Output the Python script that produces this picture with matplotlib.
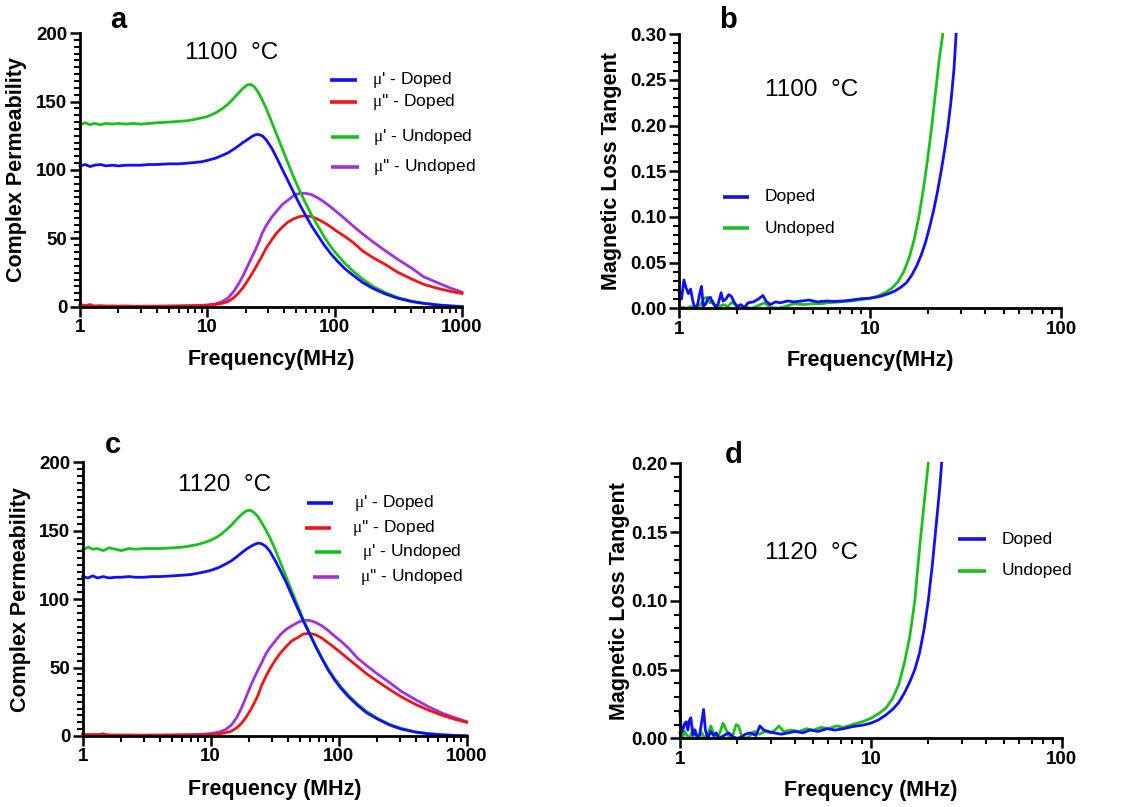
import matplotlib
matplotlib.use("Agg")
import matplotlib.pyplot as plt
from matplotlib.ticker import FixedLocator, LogLocator, NullFormatter, MultipleLocator

plt.rcParams['font.family'] = ['Liberation Sans', 'DejaVu Sans']
plt.rcParams['mathtext.fontset'] = 'custom'
plt.rcParams['mathtext.it'] = 'Liberation Serif'
plt.rcParams['mathtext.rm'] = 'Liberation Serif'

# ---------------- data: permeability panels (a, c) ----------------
freq_perm = [1, 1.1, 1.2, 1.3, 1.45, 1.6, 1.8, 2, 2.3, 2.6, 3, 3.5, 4, 5, 6, 7, 8, 9, 10,
             11.5, 13, 14.5, 16, 17.5, 19, 20.5, 22, 23.5, 25, 27, 29, 32, 35, 39, 43, 48,
             53, 59, 66, 74, 83, 93, 105, 120, 140, 165, 200, 250, 310, 400, 500, 650, 800, 1000]

a_mu1_doped = [103, 104, 102.5, 103.5, 104, 103, 103.5, 103, 103.5, 103.5, 103.5, 104, 104, 104.5,
               104.5, 105, 105.5, 106, 107, 108.5, 110.5, 112.5, 115, 117.5, 120, 122, 124, 125.5,
               126, 125, 122, 116, 109, 100, 92, 83, 75, 67, 59, 52, 45, 39, 33.5, 28, 23, 18,
               13.5, 9.5, 6.5, 4, 2.6, 1.4, 0.8, 0.3]
a_mu2_doped = [2, 0.8, 1.8, 0.5, 1, 0.4, 0.8, 0.5, 0.7, 0.4, 0.5, 0.5, 0.5, 0.6, 0.7, 0.8, 0.9,
               1.0, 1.2, 1.7, 2.6, 4, 6.5, 10, 14, 18.5, 23, 27.5, 32, 37.5, 43, 49, 54, 58.5,
               62, 64.5, 66, 66.5, 66, 64, 61.5, 58.5, 55, 51.5, 47, 41, 36, 31, 25.5, 20.5,
               16.5, 13.5, 11.5, 9.8]
a_mu1_undoped = [133, 134.5, 133, 134, 133, 134, 133.5, 134, 133.5, 134, 133.5, 134, 134.5, 135,
                 135.5, 136, 137, 138, 139, 141.5, 144.5, 148, 152, 156, 159.5, 162, 162.5, 160.5,
                 157, 151, 145, 135, 126, 115, 105, 94, 85, 76, 67, 59, 51, 44, 38, 32, 26,
                 20.5, 15, 10.5, 7, 4.3, 2.8, 1.5, 0.8, 0.3]
a_mu2_undoped = [0.5, 1, 0.4, 0.8, 0.5, 0.8, 0.4, 0.6, 0.5, 0.6, 0.5, 0.6, 0.6, 0.7, 0.8, 0.9,
                 1.0, 1.2, 1.5, 2.2, 3.8, 6.5, 11, 16.5, 22.5, 29, 35, 40.5, 46, 54, 59.5, 65.5,
                 70, 75, 78, 81.5, 83, 83, 82, 79.5, 76.5, 73, 69, 64.5, 59, 53.5, 47.5, 41,
                 35, 28.5, 22, 17.5, 14, 10.8]

c_mu1_doped = [116.5, 115.5, 117, 115.5, 116.5, 115.5, 116, 116, 116.5, 116, 116, 116.5, 116.5,
               117, 117.5, 118, 119, 120, 121, 123, 125.5, 128, 131, 134, 136.5, 138.5, 140,
               141, 140.5, 138.5, 135, 128, 121, 112, 103, 93, 84, 75, 65.5, 56.5, 48, 41,
               34.5, 28.5, 22.5, 17, 12.5, 8, 5, 2.8, 1.6, 0.8, 0.4, 0.1]
c_mu2_doped = [1.5, 0.5, 1.2, 0.8, 1.6, 0.4, 0.7, 0.5, 0.6, 0.4, 0.5, 0.5, 0.5, 0.6, 0.6, 0.7,
               0.8, 0.9, 1.1, 1.5, 2.3, 3.5, 6, 9.5, 14, 19, 24.5, 30, 37, 43.5, 49, 55.5, 60.5,
               65.5, 69.5, 72, 74.5, 75, 74, 71.5, 68, 64.5, 60.5, 56, 51, 45.5, 40, 34, 28.5,
               23, 19, 15, 12.3, 10]
c_mu1_undoped = [136, 138, 136.5, 137, 135.5, 137.5, 136.5, 135.5, 137, 136.5, 137, 137, 137,
                 137.5, 138, 139, 140, 141.5, 143, 146, 150, 154, 158.5, 162, 164.5, 165, 163,
                 160, 156, 150.5, 145, 136, 127, 116, 106, 95, 85, 75.5, 66, 57, 49, 42, 35.5,
                 29.5, 23.5, 18, 13, 8.5, 5.5, 3, 1.8, 0.9, 0.4, 0.1]
c_mu2_undoped = [0.8, 1.2, 0.5, 1, 0.6, 0.9, 0.5, 0.7, 0.6, 0.7, 0.6, 0.7, 0.7, 0.8, 0.9, 1,
                 1.2, 1.4, 1.8, 2.7, 4.5, 8, 13.5, 21, 29, 36.5, 43, 48.5, 53.5, 60, 64.5, 69.5,
                 74, 78, 80.5, 83, 84.5, 84.5, 83, 80.5, 77, 73, 69, 64, 57, 51.5, 45.5, 39,
                 32.5, 26.5, 21.5, 16.5, 13.5, 10.5]

# ---------------- data: loss tangent panels (b, d) ----------------
b_freq_doped = [1.0, 1.03, 1.06, 1.09, 1.12, 1.15, 1.18, 1.21, 1.25, 1.28, 1.31, 1.34, 1.38,
                1.42, 1.46, 1.5, 1.55, 1.6, 1.66, 1.7, 1.76, 1.82, 1.88, 1.95, 2.02, 2.1, 2.2,
                2.3, 2.45, 2.6, 2.75, 2.85, 3.0, 3.2, 3.4, 3.7, 4.0, 4.4, 4.8, 5.3, 5.9, 6.5,
                7.2, 8.0, 9.0, 10, 11.3, 12.5, 13.5, 14.5, 15.5, 16.5, 17.5, 18.5, 19.5, 20.5,
                21.5, 22.5, 23.5, 24.5, 25.5, 26.5, 27.5, 28.2]
b_tan_doped = [0.018, 0.010, 0.031, 0.022, 0.016, 0.021, 0.008, 0.0, 0.004, 0.015, 0.024, 0.002,
               0.005, 0.011, 0.012, 0.006, 0.002, 0.004, 0.017, 0.008, 0.010, 0.015, 0.013,
               0.006, 0.002, 0.004, 0.001, 0.006, 0.007, 0.010, 0.014, 0.008, 0.004, 0.007,
               0.006, 0.008, 0.007, 0.008, 0.009, 0.007, 0.008, 0.0075, 0.008, 0.009, 0.0105,
               0.011, 0.013, 0.016, 0.019, 0.023, 0.028, 0.036, 0.046, 0.058, 0.072, 0.089,
               0.107, 0.127, 0.149, 0.172, 0.197, 0.226, 0.262, 0.30]
b_freq_undoped = [1.0, 1.05, 1.1, 1.15, 1.2, 1.25, 1.3, 1.35, 1.4, 1.45, 1.5, 1.55, 1.6, 1.7,
                  1.8, 1.9, 2.0, 2.1, 2.25, 2.4, 2.6, 2.8, 3.0, 3.3, 3.6, 4.0, 4.5, 5, 5.5, 6,
                  7, 8, 9, 10, 11, 12, 13, 14, 15, 16, 17, 18, 19, 20, 21, 22, 23, 24]
b_tan_undoped = [0.0, 0.001, 0.0, 0.002, 0.0, 0.001, 0.004, 0.011, 0.012, 0.006, 0.008, 0.002,
                 0.001, 0.004, 0.002, 0.007, 0.002, 0.0, 0.001, 0.0, 0.003, 0.006, 0.001, 0.0,
                 0.002, 0.005, 0.004, 0.005, 0.005, 0.006, 0.007, 0.008, 0.0095, 0.011, 0.0135,
                 0.017, 0.022, 0.029, 0.04, 0.055, 0.075, 0.1, 0.13, 0.163, 0.198, 0.236,
                 0.272, 0.30]

d_freq_doped = [1.0, 1.02, 1.04, 1.06, 1.08, 1.1, 1.12, 1.14, 1.17, 1.2, 1.23, 1.27, 1.3, 1.33,
                1.36, 1.4, 1.45, 1.5, 1.55, 1.6, 1.7, 1.8, 1.9, 2.0, 2.1, 2.2, 2.35, 2.5, 2.62,
                2.75, 2.9, 3.1, 3.4, 3.7, 4.0, 4.4, 4.8, 5.3, 5.9, 6.5, 7.2, 8.0, 9.0, 10, 11,
                12, 13, 14, 15, 16, 17, 18, 19, 20, 21, 22, 23, 23.5]
d_tan_doped = [0.018, 0.004, 0.007, 0.011, 0.012, 0.006, 0.013, 0.015, 0.002, 0.006, 0.0, 0.003,
               0.012, 0.021, 0.006, 0.0, 0.005, 0.002, 0.004, 0.0, 0.002, 0.004, 0.001, 0.0,
               0.001, 0.003, 0.004, 0.002, 0.009, 0.006, 0.005, 0.004, 0.003, 0.004, 0.005,
               0.004, 0.006, 0.005, 0.007, 0.006, 0.007, 0.0085, 0.0095, 0.011, 0.0135, 0.017,
               0.021, 0.026, 0.033, 0.041, 0.05, 0.062, 0.079, 0.1, 0.126, 0.155, 0.183, 0.20]
d_freq_undoped = [1.0, 1.03, 1.06, 1.09, 1.12, 1.15, 1.18, 1.22, 1.26, 1.3, 1.35, 1.4, 1.45,
                  1.5, 1.56, 1.62, 1.68, 1.75, 1.82, 1.9, 1.97, 2.03, 2.1, 2.2, 2.3, 2.45, 2.6,
                  2.8, 3.0, 3.15, 3.3, 3.5, 3.8, 4.2, 4.6, 5.0, 5.5, 6.0, 6.6, 7.2, 8.0, 9.0,
                  10, 11, 12, 13, 14, 15, 16, 17, 18, 19, 20]
d_tan_undoped = [0.004, 0.0, 0.005, 0.002, 0.0, 0.004, 0.007, 0.003, 0.0, 0.004, 0.0, 0.003,
                 0.009, 0.004, 0.0, 0.004, 0.011, 0.006, 0.0, 0.003, 0.010, 0.009, 0.002, 0.0,
                 0.001, 0.005, 0.003, 0.005, 0.004, 0.006, 0.009, 0.005, 0.006, 0.005, 0.007,
                 0.006, 0.008, 0.007, 0.009, 0.008, 0.01, 0.012, 0.0145, 0.018, 0.022, 0.029,
                 0.039, 0.055, 0.074, 0.1, 0.138, 0.17, 0.20]

perm_xticks = [1, 10, 100, 1000]
perm_xticklabels = ['1', '10', '100', '1000']
tan_xticks = [1, 10, 100]
tan_xticklabels = ['1', '10', '100']
perm_yticks = [0, 50, 100, 150, 200]
b_yticks = [0.00, 0.05, 0.10, 0.15, 0.20, 0.25, 0.30]
d_yticks = [0.00, 0.05, 0.10, 0.15, 0.20]

perm_labels = ["$\\mu$' - Doped", "$\\mu$'' - Doped", "$\\mu$' - Undoped", "$\\mu$'' - Undoped"]
tan_labels = ["Doped", "Undoped"]

BLUE = '#1010f0'
RED = '#f01414'
GREEN = '#1cbf1c'
PURPLE = '#a030e0'

fig = plt.figure(figsize=(11.25, 8.07), dpi=100)

ax_a = fig.add_axes([0.0711, 0.6196, 0.3396, 0.3395])
ax_b = fig.add_axes([0.6036, 0.6180, 0.3396, 0.3395])
ax_c = fig.add_axes([0.0735, 0.0880, 0.3413, 0.3391])
ax_d = fig.add_axes([0.6044, 0.0851, 0.3393, 0.3408])

LW = 2.0
TICK_FS = 13.5
XLAB_FS = 15.5
YLAB_FS = 15.5


def style(ax, xticks, xlabels, xlim, yticks, ylim, yfmt, yminor):
    ax.set_xscale('log')
    ax.set_xlim(*xlim)
    ax.set_ylim(*ylim)
    ax.xaxis.set_major_locator(FixedLocator(xticks))
    ax.set_xticklabels(xlabels)
    ax.xaxis.set_minor_locator(LogLocator(base=10, subs=[2, 3, 4, 5, 6, 7, 8, 9]))
    ax.xaxis.set_minor_formatter(NullFormatter())
    ax.yaxis.set_major_locator(FixedLocator(yticks))
    ax.set_yticklabels([yfmt.format(v) for v in yticks])
    ax.yaxis.set_minor_locator(MultipleLocator(yminor))
    for s in ['top', 'right']:
        ax.spines[s].set_visible(False)
    for s in ['left', 'bottom']:
        ax.spines[s].set_linewidth(2.0)
    ax.tick_params(which='major', direction='out', length=7, width=1.8, labelsize=TICK_FS, pad=2)
    ax.tick_params(which='minor', direction='out', length=4, width=1.5)
    for lab in ax.get_xticklabels() + ax.get_yticklabels():
        lab.set_fontweight('bold')


def manual_legend(ax, entries, x0, x1, xt, fs=12.5):
    for (label, color, y, dx) in entries:
        ax.plot([x0 + dx, x1 + dx], [y, y], color=color, lw=2.6, transform=ax.transAxes,
                clip_on=False, solid_capstyle='butt')
        ax.text(xt + dx, y, label, transform=ax.transAxes, fontsize=fs, va='center', ha='left')


def labels(ax, xlab, ylab, xy, yx):
    ax.set_xlabel(xlab, fontsize=XLAB_FS, fontweight='bold')
    ax.set_ylabel(ylab, fontsize=YLAB_FS, fontweight='bold')
    ax.xaxis.set_label_coords(0.5, xy)
    ax.xaxis.label.set_va('center')
    ax.yaxis.set_label_coords(yx, 0.5)
    ax.yaxis.label.set_va('center')


# ---- panel a ----
ax = ax_a
ax.plot(freq_perm, a_mu2_undoped, color=PURPLE, lw=LW, clip_on=False)
ax.plot(freq_perm, a_mu2_doped, color=RED, lw=LW, clip_on=False)
ax.plot(freq_perm, a_mu1_undoped, color=GREEN, lw=LW, clip_on=False)
ax.plot(freq_perm, a_mu1_doped, color=BLUE, lw=LW, clip_on=False)
style(ax, perm_xticks, perm_xticklabels, (1, 1000), perm_yticks, (0, 200), '{:.0f}', 5)
labels(ax, 'Frequency(MHz)', 'Complex Permeability', -0.19, -0.165)
ax.text(0.275, 0.927, '1100  \u00b0C', transform=ax.transAxes, fontsize=17.5, va='center', ha='left')
manual_legend(ax, [(perm_labels[0], BLUE, 0.828, 0.0), (perm_labels[1], RED, 0.748, 0.0),
                   (perm_labels[2], GREEN, 0.620, 0.004), (perm_labels[3], PURPLE, 0.511, 0.004)],
              0.654, 0.725, 0.764)

# ---- panel b ----
ax = ax_b
ax.plot(b_freq_undoped, b_tan_undoped, color=GREEN, lw=LW, clip_on=False)
ax.plot(b_freq_doped, b_tan_doped, color=BLUE, lw=LW, clip_on=False)
style(ax, tan_xticks, tan_xticklabels, (1, 100), b_yticks, (0, 0.30), '{:.2f}', 0.01)
labels(ax, 'Frequency(MHz)', 'Magnetic Loss Tangent', -0.189, -0.178)
ax.text(0.225, 0.797, '1100  \u00b0C', transform=ax.transAxes, fontsize=17.5, va='center', ha='left')
manual_legend(ax, [(tan_labels[0], BLUE, 0.407, 0.0), (tan_labels[1], GREEN, 0.292, 0.0)],
              0.114, 0.184, 0.225)

# ---- panel c ----
ax = ax_c
ax.plot(freq_perm, c_mu2_undoped, color=PURPLE, lw=LW, clip_on=False)
ax.plot(freq_perm, c_mu2_doped, color=RED, lw=LW, clip_on=False)
ax.plot(freq_perm, c_mu1_undoped, color=GREEN, lw=LW, clip_on=False)
ax.plot(freq_perm, c_mu1_doped, color=BLUE, lw=LW, clip_on=False)
style(ax, perm_xticks, perm_xticklabels, (1, 1000), perm_yticks, (0, 200), '{:.0f}', 5)
labels(ax, 'Frequency (MHz)', 'Complex Permeability', -0.194, -0.162)
ax.text(0.248, 0.917, '1120  \u00b0C', transform=ax.transAxes, fontsize=17.5, va='center', ha='left')
manual_legend(ax, [(perm_labels[0], BLUE, 0.852, 0.0), (perm_labels[1], RED, 0.761, -0.005),
                   (perm_labels[2], GREEN, 0.673, 0.02), (perm_labels[3], PURPLE, 0.582, 0.015)],
              0.584, 0.652, 0.707)

# ---- panel d ----
ax = ax_d
ax.plot(d_freq_undoped, d_tan_undoped, color=GREEN, lw=LW, clip_on=False)
ax.plot(d_freq_doped, d_tan_doped, color=BLUE, lw=LW, clip_on=False)
style(ax, tan_xticks, tan_xticklabels, (1, 100), d_yticks, (0, 0.20), '{:.2f}', 0.01)
labels(ax, 'Frequency (MHz)', 'Magnetic Loss Tangent', -0.188, -0.158)
ax.text(0.223, 0.673, '1120  \u00b0C', transform=ax.transAxes, fontsize=17.5, va='center', ha='left')
manual_legend(ax, [(tan_labels[0], BLUE, 0.724, 0.0), (tan_labels[1], GREEN, 0.609, 0.0)],
              0.729, 0.802, 0.842)

# panel letters
for (x, y, t) in [(0.0978, 0.965, 'a'), (0.639, 0.965, 'b'), (0.0933, 0.4387, 'c'), (0.6444, 0.4263, 'd')]:
    fig.text(x, y, t, fontsize=21, fontweight='bold', va='baseline', ha='left')

fig.savefig('out.png', dpi=100)
